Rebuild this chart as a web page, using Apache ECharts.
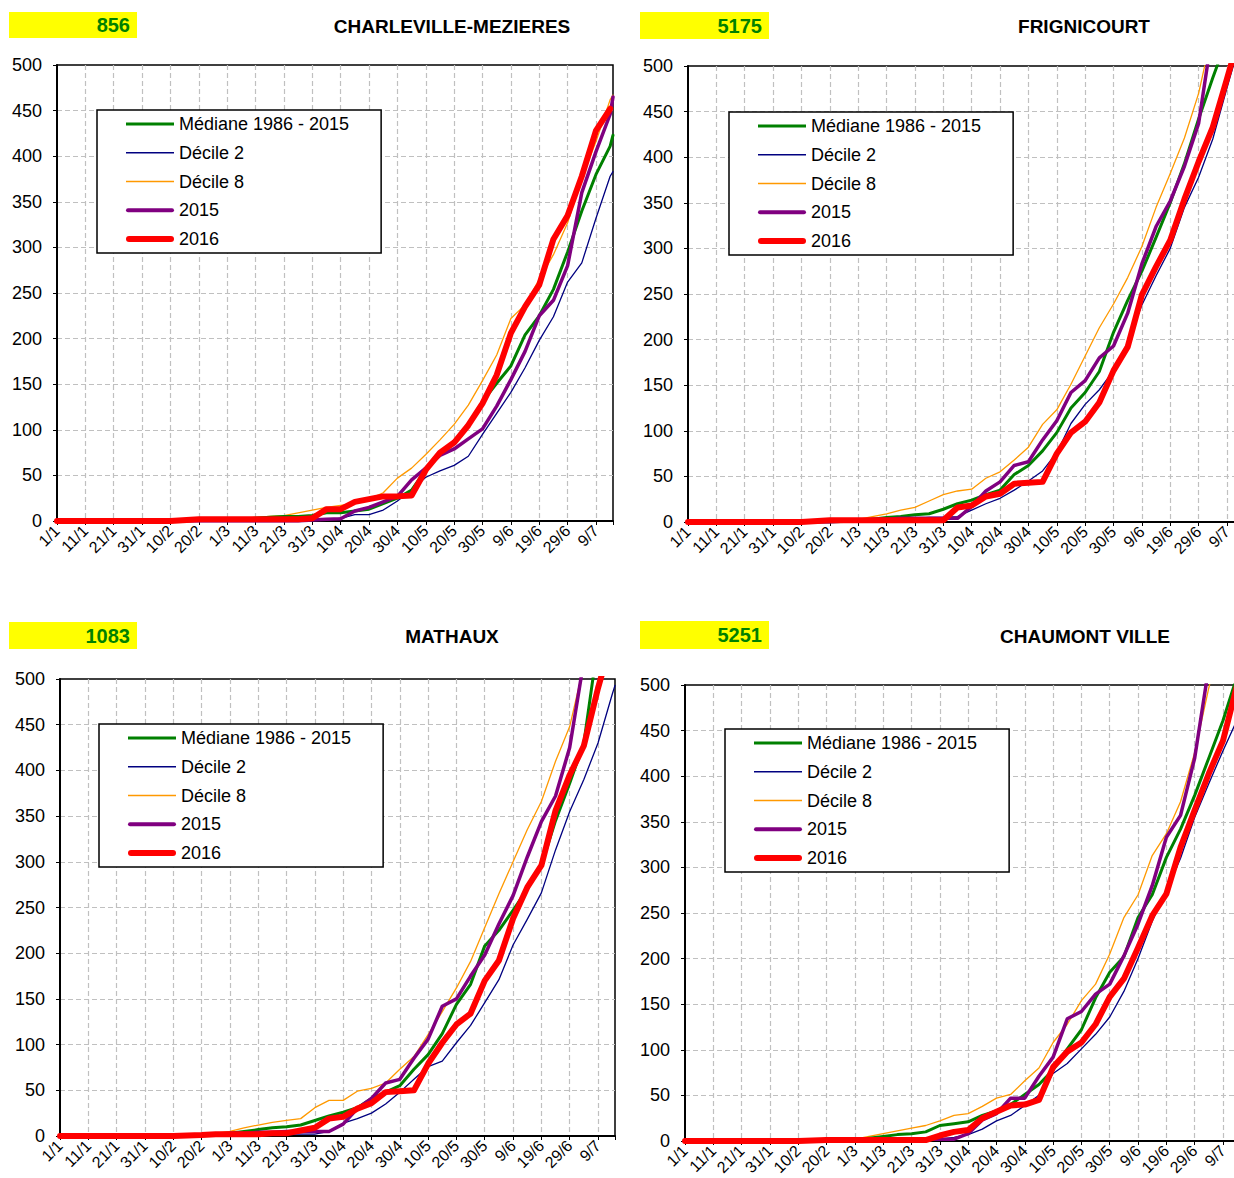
<!DOCTYPE html>
<html><head><meta charset="utf-8">
<script src="https://cdn.jsdelivr.net/npm/echarts@6/dist/echarts.min.js"></script>
<style>html,body{margin:0;padding:0;background:#fff}#c{width:1234px;height:1178px}</style>
</head><body><div id="c"></div>
<script>
const FONT = '"Liberation Sans", Arial, sans-serif';
const tickLabels = ['1/1','11/1','21/1','31/1','10/2','20/2','1/3','11/3','21/3','31/3','10/4','20/4','30/4','10/5','20/5','30/5','9/6','19/6','29/6','9/7'];
// day index since 1 January (2016, leap year)
const days = [0,10,20,30,40,50,55,60,65,70,75,80,85,90,95,100,105,110,115,120,125,130,135,140,145,150,155,160,165,170,175,180,185,190,195,196];

// CHARLEVILLE-MEZIERES (856)
const cm_median = [0,0,0,0,0,0.5,1,1,2,3,4, 5,5,6,9,9,11,13,19,25,34,56,74,86,106,131,151,170,204,225,254,295,340,380,411,423];
const cm_d2     = [0,0,0,0,0,0,0,0,0.5,1,1, 1,1,1,1,3,7,7,12,22,34,48,55,61,71,95,118,141,168,198,224,262,283,332,378,383];
const cm_d8     = [0,0,0,0,0,0.5,1,2,3,4,5, 6,9,12,15,17,19,24,31,47,58,73,89,106,127,154,182,222,237,265,292,327,376,416,462,467];
const cm_2015   = [0,0,0,0,0,0,0,0,0,0,0, 0,0,1,2,2.5,11,15,21,27,45,58,72,79,90,101,126,155,186,225,242,280,360,405,446,465];
const cm_2016   = [0,0,0,0,0,2,2,2,2,2,2, 2,2,3,13,13,21,24,27,27,28,56,75,86,105,129,160,206,235,259,309,335,378,428,452];

// FRIGNICOURT (5175)
const fr_median = [0,0,0,0,0,0,0.5,1,3,5,6, 8,9,14,20,24,30,35,52,62,78,98,125,142,165,208,243,275,312,350,393,442,487,530];
const fr_d2     = [0,0,0,0,0,0,0,1,1,2,3, 4,5,5,6,13,20,26,35,45,56,76,108,129,145,166,197,238,270,300,345,378,420,476,530];
const fr_d8     = [0,0,0,0,0,0,1,3,6,9,13, 16,23,30,34,36,48,55,68,82,107,123,151,182,213,239,268,302,345,382,421,470,540];
const fr_2015   = [0,0,0,0,0,0,1,2,3,3,4, 4,4,4,4,17,34,44,62,66,90,111,142,155,180,193,229,283,324,352,390,437,540];
const fr_2016   = [0,0,0,0,0,2,2,2,2,2,2, 2,2,2,16,18,28,31,42,43,44,75,98,110,131,166,192,249,280,309,354,395,433,486,540];

// MATHAUX (1083)
const ma_median = [0,0,0,0,0,1,2,3,5,7,9, 10,12,17,22,26,31,41,48,55,73,89,112,144,166,208,225,247,270,296,345,386,430,540];
const ma_d2     = [0,0,0,0,0,0,0,0,0,1,1, 2,2,2,5,14,19,25,35,48,62,76,82,102,121,146,171,209,237,266,313,355,390,430,483,493];
const ma_d8     = [0,0,0,0,0,1,3,5,9,12,15, 17,19,31,39,39,49,52,58,73,87,111,136,162,191,228,265,300,335,366,410,448,515];
const ma_2015   = [0,0,0,0,0,1,2,3,3,4,4, 5,5,5,5,13,30,41,58,62,85,106,142,150,175,198,232,263,305,344,372,425,520];
const ma_2016   = [0,0,0,0,0,1,2,2,2,2,3, 3,6,9,19,21,30,36,48,49,50,79,102,122,134,170,192,238,272,296,356,395,427,490,545];

// CHAUMONT VILLE (5251)
const ch_median = [0,0,0,0,0,0,0,1,3,5,7, 8,10,17,19,21,28,33,40,51,62,78,101,122,157,185,202,245,270,311,342,379,420,461,510];
const ch_d2     = [0,0,0,0,0,0,0,0,0,1,1, 2,2,2,4,7,13,22,28,39,50,74,85,101,117,136,164,200,241,274,310,355,392,428,462];
const ch_d8     = [0,0,0,0,0,0,1,2,5,8,11, 14,17,22,28,30,38,47,51,66,80,108,128,154,172,205,245,270,313,337,372,426,497,560];
const ch_2015   = [0,0,0,0,0,0,0,1,1,2,2, 2,2,2,2,8,23,30,47,47,71,92,134,142,161,172,203,238,280,333,357,420,520];
const ch_2016   = [0,0,0,0,0,1,1,1,1,1,1, 1,1,6,10,12,25,32,39,40,45,81,98,108,128,158,178,212,247,271,322,363,403,439,500];

const stationCodes = ['856','5175','1083','5251'];
const stationNames = ['CHARLEVILLE-MEZIERES','FRIGNICOURT','MATHAUX','CHAUMONT VILLE'];
const stationData = [
  {median:cm_median, d2:cm_d2, d8:cm_d8, y2015:cm_2015, y2016:cm_2016},
  {median:fr_median, d2:fr_d2, d8:fr_d8, y2015:fr_2015, y2016:fr_2016},
  {median:ma_median, d2:ma_d2, d8:ma_d8, y2015:ma_2015, y2016:ma_2016},
  {median:ch_median, d2:ch_d2, d8:ch_d8, y2015:ch_2015, y2016:ch_2016}
];

const layout = [
  {grid:{left:57,top:65,width:556,height:456}, box:{x:9,y:12,w:128,h:26}, tx:452, ty:26, lg:{left:97,top:110}},
  {grid:{left:688,top:66,width:556,height:456}, box:{x:640,y:12,w:129,h:27}, tx:1084, ty:26, lg:{left:729,top:112}},
  {grid:{left:60,top:679,width:555,height:457}, box:{x:9,y:622,w:128,h:27}, tx:452, ty:636, lg:{left:99,top:724}},
  {grid:{left:685,top:685,width:555,height:456}, box:{x:640,y:621,w:129,h:28}, tx:1085, ty:636, lg:{left:725,top:729}}
];

const seriesDefs = [
  {key:'d8', name:'Décile 8', color:'#FF9900', width:1.3},
  {key:'d2', name:'Décile 2', color:'#000080', width:1.3},
  {key:'median', name:'Médiane 1986 - 2015', color:'#008000', width:3},
  {key:'y2015', name:'2015', color:'#800080', width:3.5},
  {key:'y2016', name:'2016', color:'#FF0000', width:6}
];

const legendItems = [
  {name:'Médiane 1986 - 2015', icon:'path://M0,0H48V3H0Z', itemStyle:{color:'#008000', borderWidth:0}},
  {name:'Décile 2', icon:'path://M0,0H48V1.4H0Z', itemStyle:{color:'#000080', borderWidth:0}},
  {name:'Décile 8', icon:'path://M0,0H48V1.4H0Z', itemStyle:{color:'#FF9900', borderWidth:0}},
  {name:'2015', icon:'path://M2,0H46A2,2,0,0,1,46,4H2A2,2,0,0,1,2,0Z', itemStyle:{color:'#800080', borderWidth:0}},
  {name:'2016', icon:'path://M3,0H45A3,3,0,0,1,45,6H3A3,3,0,0,1,3,0Z', itemStyle:{color:'#FF0000', borderWidth:0}}
];

const splitStyle = {color:'#c0c0c0', type:[5,3], width:1.2};

const option = {
  animation:false,
  backgroundColor:'#fff',
  textStyle:{fontFamily:FONT},
  grid: layout.map(l => Object.assign({show:true, borderColor:'#000', borderWidth:1.5, backgroundColor:'transparent', containLabel:false, outerBoundsMode:'none'}, l.grid)),
  xAxis: layout.map((l,i) => ({
    gridIndex:i, type:'value', min:0, max:196, interval:10,
    axisLine:{show:true, onZero:false, lineStyle:{color:'#000', width:2}},
    axisTick:{show:true, length:4, lineStyle:{color:'#000', width:1}},
    axisLabel:{rotate:45, margin:7, fontSize:16, color:'#000', fontFamily:FONT,
      formatter: v => (v % 10 === 0 && tickLabels[v/10]) ? tickLabels[v/10] : ''},
    splitLine:{show:true, showMinLine:false, showMaxLine:false, lineStyle:splitStyle}
  })),
  yAxis: layout.map((l,i) => ({
    gridIndex:i, type:'value', min:0, max:500, interval:50,
    axisLine:{show:true, onZero:false, lineStyle:{color:'#000', width:2}},
    axisTick:{show:true, length:4, lineStyle:{color:'#000', width:1}},
    axisLabel:{margin:15, fontSize:18, color:'#000', fontFamily:FONT},
    splitLine:{show:true, showMinLine:false, showMaxLine:false, lineStyle:splitStyle}
  })),
  legend: layout.map(l => ({
    left:l.lg.left, top:l.lg.top, orient:'vertical',
    itemWidth:48, itemHeight:18, itemGap:10.75,
    padding:[5,32,5,29],
    borderColor:'#000', borderWidth:1.5, backgroundColor:'#fff',
    textStyle:{fontSize:18, color:'#000', fontFamily:FONT},
    selectedMode:false,
    data:legendItems
  })),
  graphic: layout.flatMap((l,i) => [
    {type:'rect', shape:{x:l.box.x, y:l.box.y, width:l.box.w, height:l.box.h}, style:{fill:'#FFFF00'}},
    {type:'text', x:l.box.x + l.box.w - 7, y:l.box.y + l.box.h/2,
      style:{text:stationCodes[i], align:'right', verticalAlign:'middle', font:'bold 20px ' + FONT, fill:'#008000'}},
    {type:'text', x:l.tx, y:l.ty,
      style:{text:stationNames[i], align:'center', verticalAlign:'middle', font:'bold 19px ' + FONT, fill:'#000'}}
  ]),
  series: []
};

stationData.forEach((st, i) => {
  seriesDefs.forEach(sd => {
    const vals = st[sd.key];
    option.series.push({
      type:'line', name:sd.name, xAxisIndex:i, yAxisIndex:i,
      showSymbol:false, symbol:'none', clip:true,
      lineStyle:{color:sd.color, width:sd.width, cap:'round', join:'round'},
      itemStyle:{color:sd.color},
      data: vals.map((v, k) => [days[k], v])
    });
  });
});

const chart = echarts.init(document.getElementById('c'), null, {renderer:'svg'});
chart.setOption(option);
</script>
</body></html>
